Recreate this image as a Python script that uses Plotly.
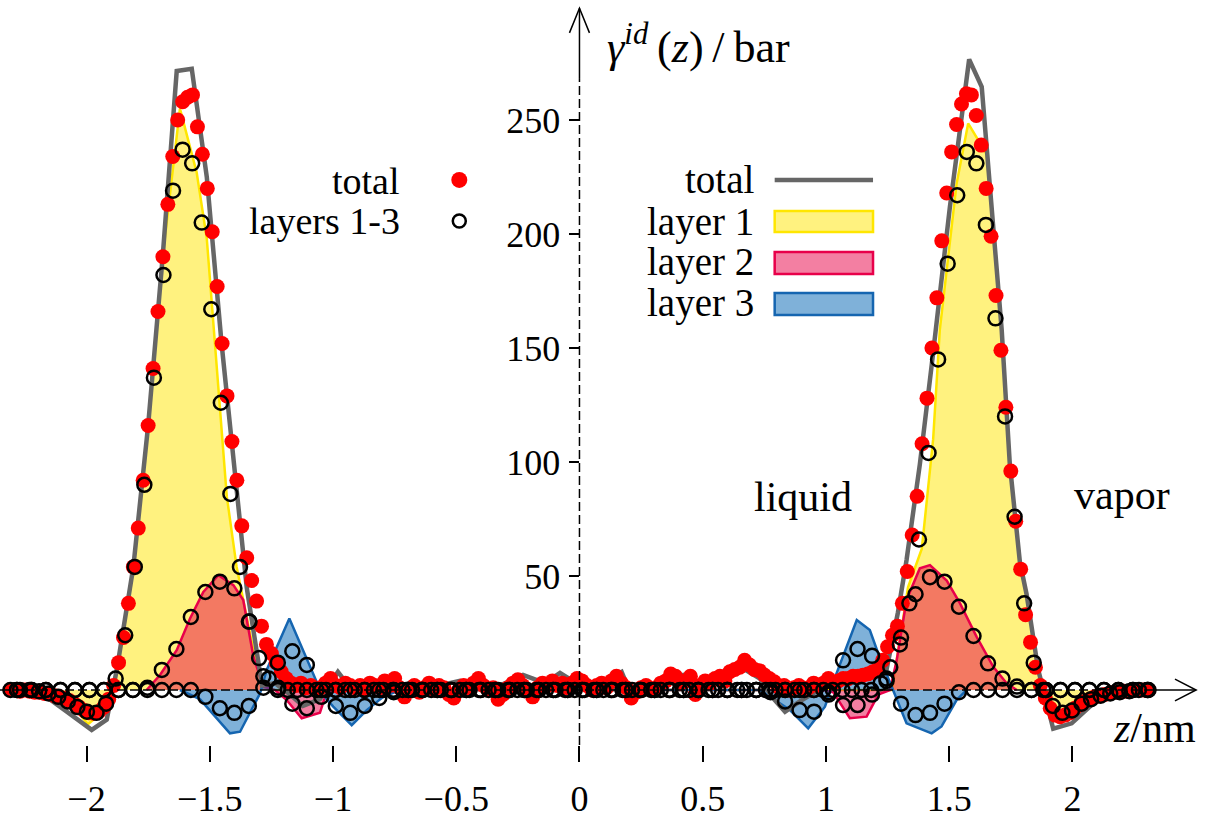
import plotly.graph_objects as go

FONT = "Liberation Serif"

# ---------------- data ----------------
# total, dense sampling (red dots), z = -2.31 ... 2.31 step 0.02
total_dots = [
    0, 0, -0.5, 0, -0.5, -1, -1, -1.5, -1.5, -2.5,
    -3, -3.6, -4.6, -6, -7.5, -9, -10, -10.2, -9.5, -7.5,
    -4, 2, 12, 23, 38, 54, 71, 92, 116, 141,
    166, 190, 213, 234, 250, 258, 260, 261, 247, 235,
    220, 201, 177, 152, 129, 109, 92, 72, 58, 48,
    39, 28, 20, 16, 12, 8, 5, 3, 2, 3,
    1, 2, 0, 1, 3, 5, 2, 1, 3, 2,
    1, 2, 0, 3, 2, 1, 4, 2, 5, 1,
    -3, 0, 2, -1, 1, 3, 0, 2, 1, -2,
    -3.5, 0, 2, 1, 3, 5, 2, 0, 1, -4,
    -2, 1, 3, 4.5, 2, 0, -3, 1, 3, 2,
    4, 2, 3, 1, 3, 5, 4, 2, 0, 2,
    3, 1, 4, 6, 3, 1, -3.5, -1, 1, 2,
    0, 1, 3, 4, 7, 6, 3, 4, 6, -2,
    2, 4, 3, 5, 6, 4, 8, 9, 10, 13,
    11, 9, 8.5, 6.6, 5, 3.6, 1, 2, 0, 1,
    2, 0, 1, 3, 2, 3, 5, 3, 4, 5,
    5, 6, 6, 6.5, 7, 8, 9, 13, 19, 24,
    28, 38, 52, 68, 85, 108, 128, 150, 172, 197,
    218, 236, 248, 257, 261.5, 261, 252, 239, 220, 199,
    173, 149, 124, 96, 74, 53, 33, 21, 10, 2,
    -3.5, -8, -11, -11.7, -11, -10, -8, -6.5, -5, -4,
    -3, -2.5, -2, -1.5, -1, -1, -0.5, -0.5, 0, 0,
    0, 0,
]
z_dots = [round(-2.31 + 0.02 * i, 2) for i in range(len(total_dots))]

# layer 1, circles (finer sampling)
layer1_circ = [
    0, 0, 0, -0.5, -1.5, -3, -5, -7.5, -9.5, -10,
    -6, 5, 24, 54, 90, 137, 182, 219, 237, 231,
    205, 167, 126, 86, 54, 30, 14, 5, 1, 0,
    0, 0, 0, 0, 0, 0, 0, 0, 0, 0,
    0, 0, 0, 0, 0, 0, 0, 0, 0, 0,
    0, 0, 0, 0, 0, 0, 0, 0, 0, 0,
    0, 0, 0, 0, 0, 0, 0, 0, 0, 0,
    0, 0, 0, 0, 0, 0, 0, 0, 0, 0,
    0, 0, 0, 0, 0, 0, 0, 0, 0, 0,
    0, 3, 10, 20, 38, 66, 104, 145, 187, 217,
    236, 231, 204, 163, 120, 76, 38, 12, 0, -7,
    -10, -9, -6, -4, -2.5, -1.5, -1, -0.5, 0, 0,
]
z_circ1 = [round(0.0388 * (j + 0.5), 4) for j in range(-60, 60)]

# layers 2 and 3, circles
layer2_circ = [
    0, 0, 0, 0, 0, 0, 0, 0, 0, 1,
    8.8, 18, 32, 43, 47.5, 44.6, 30, 6, 0, -6,
    -8, -3, 0, 0, 0, 0, 0, 0, 0, 0,
    0, 0, 0, 0, 0, 0, 0, 0, 0, 0,
    0, 0, 0, 0, 0, 0, 0, 0, 0, 0,
    0, 0, 0, 0, 0, 0, -1, -6.6, -6.6, -2,
    5, 23, 42, 49.5, 47.5, 36.5, 23.7, 11.7, 5, 1.5,
    0, 0, 0, 0, 0, 0, 0, 0, 0,
]
layer3_circ = [
    0, 0, 0, 0, 0, 0, 0, 0, 0, 0,
    0, 0, 0, -3, -8, -10, -7, 1, 12, 17,
    11, 0, -7, -10, -7, -3.5, -1, 0, 0, 0,
    0, 0, 0, 0, 0, 0, 0, 0, 0, 0,
    0, 0, 0, 0, 0, 0, 0, 0, 0, 0,
    0, 0, -1, -5, -8.8, -9.5, -2, 13, 18, 15,
    4, -6, -11, -10, -6, -1, 0, 0, 0, 0,
    0, 0, 0, 0, 0, 0, 0, 0, 0,
]
z_circ23 = [round(0.011 + 0.0588 * m, 4) for m in range(-39, 40)]

# total (grey line)
z_total_line = [-2.310, -2.189, -2.080, -1.979, -1.918, -1.877, -1.810, -1.750, -1.691, -1.634,
                -1.573, -1.512, -1.452, -1.394, -1.350, -1.288, -1.235, -1.174, -1.122, -1.053,
                -0.980, -0.923, -0.850, -0.769, -0.688, -0.607, -0.485, -0.363, -0.229, -0.140,
                -0.079, 0.002, 0.083, 0.171, 0.217, 0.286, 0.420, 0.489, 0.570, 0.671,
                0.732, 0.781, 0.834, 0.894, 0.955, 1.016, 1.138, 1.246, 1.292, 1.327,
                1.381, 1.434, 1.503, 1.581, 1.632, 1.713, 1.746, 1.787, 1.814, 1.861,
                1.922, 1.997, 2.084, 2.165, 2.302]
total_line = [0, -1, -9.5, -17.5, -13, 9, 54, 116, 190, 271.5,
              272.5, 225, 152, 89, 45, 2, 3, -2, -7, -4,
              8, 0, 2, 1, 3, 1, 4, 0, 6.6, 3,
              7.5, 2, 3, 8, -4, 2, 6.6, 1, 4, 9,
              5, -3, -9.5, -5, -1, 2, 5, 9, 34, 57,
              99, 147, 212, 276.6, 264.6, 158, 99, 56, 42, 9,
              -17, -14.6, -6, -1.5, 0]

# layer 1 (yellow area)
z_layer1 = [-2.189, -2.080, -1.994, -1.918, -1.876, -1.810, -1.750, -1.691, -1.621, -1.553,
            -1.512, -1.486, -1.458, -1.431, -1.391, -1.323, -1.283, -1.235,
            1.268, 1.333, 1.389, 1.435, 1.462, 1.496, 1.530, 1.577, 1.652, 1.713,
            1.746, 1.787, 1.814, 1.861, 1.895, 1.936, 2.030, 2.112, 2.172]
layer1 = [0, -4, -15, -8, 8, 53, 116, 190, 255, 227,
          198, 162, 121, 85, 54, 17.5, 1.5, 0,
          0, 45, 62, 110, 158, 191.5, 222, 248.5, 235, 158,
          99, 56, 42, 9, -4.4, -11.7, -4.4, -1, 0]

# layer 2 (red area)
z_layer2 = [-1.756, -1.702, -1.634, -1.580, -1.526, -1.465, -1.404, -1.364, -1.323, -1.283,
            -1.235, -1.188, -1.127, -1.053, -1.026, -0.972,
            0.984, 1.030, 1.097, 1.165, 1.212, 1.260, 1.287, 1.327, 1.381, 1.422,
            1.490, 1.544, 1.611, 1.679, 1.733, 1.774]
layer2 = [0, 6.6, 17.5, 31.4, 43, 50.4, 46, 39.5, 14.6, 1.5,
          0, -4.4, -12.4, -10, -1, 0,
          0, -1, -12.4, -11.7, -2, 0, 13, 39.5, 53.4, 54.8,
          48, 38, 23.4, 10.2, 3, 0]

# layer 3 (blue area)
z_layer3 = [-1.621, -1.540, -1.418, -1.377, -1.296, -1.269, -1.177, -1.080, -1.046, -0.999,
            -0.924, -0.863, -0.796, -0.728,
            0.732, 0.854, 0.928, 0.996, 1.043, 1.125, 1.178, 1.212, 1.260, 1.327,
            1.429, 1.469, 1.530, 1.571]
layer3 = [0, -4, -19, -18.3, -1.5, 8.8, 31.4, 7.3, -1.5, -7.3,
          -15.4, -8.8, -3, 0,
          0, -8.8, -16.8, -7.3, 7.3, 30.7, 26.3, 16, 3, -14.6,
          -19, -16, -4.4, 0]

xtick_vals = [-2, -1.5, -1, -0.5, 0, 0.5, 1, 1.5, 2]
xtick_text = ["\u22122", "\u22121.5", "\u22121", "\u22120.5", "0", "0.5", "1", "1.5", "2"]
ytick_vals = [50, 100, 150, 200, 250]
ytick_text = ["50", "100", "150", "200", "250"]

# ---------------- styling ----------------
GREY = "#666666"
Y1_LINE, Y1_FILL = "#FFE600", "rgba(255,230,0,0.5)"
L2_LINE, L2_FILL = "#E8004A", "rgba(232,0,70,0.5)"
L3_LINE, L3_FILL = "#1565B0", "rgba(0,100,180,0.5)"

X0, X1 = -2.351, 2.546
Y0, Y1 = -24.12, 302.63

fig = go.Figure()
for zz, vv, lc, fc in [(z_layer1, layer1, Y1_LINE, Y1_FILL),
                       (z_layer2, layer2, L2_LINE, L2_FILL),
                       (z_layer3, layer3, L3_LINE, L3_FILL)]:
    fig.add_trace(go.Scatter(x=zz, y=vv, mode="lines", fill="tozeroy",
                             fillcolor=fc, line=dict(color=lc, width=2.5),
                             hoverinfo="skip", cliponaxis=False))

fig.add_trace(go.Scatter(x=z_total_line, y=total_line, mode="lines",
                         line=dict(color=GREY, width=4.5), cliponaxis=False))
fig.add_trace(go.Scatter(x=z_dots, y=total_dots, mode="markers",
                         marker=dict(color="#FF0000", size=15, line=dict(width=0)),
                         cliponaxis=False))
for zz, vv in [(z_circ1, layer1_circ), (z_circ23, layer2_circ), (z_circ23, layer3_circ)]:
    fig.add_trace(go.Scatter(x=zz, y=vv, mode="markers",
                             marker=dict(symbol="circle-open", color="black", size=14,
                                         line=dict(width=2.5, color="black")),
                             cliponaxis=False))

shapes = []
AX = dict(color="black", width=1.5)
# vertical axis (dashed) + arrow
shapes.append(dict(type="line", xref="x", yref="y", x0=0, x1=0, y0=Y0, y1=268,
                   line=dict(color="black", width=1.5, dash="9px,4px"), layer="above"))
shapes.append(dict(type="line", xref="x", yref="y", x0=0, x1=0, y0=268, y1=299,
                   line=AX, layer="above"))
shapes.append(dict(type="path", xref="x", yref="y",
                   path="M -0.0406,288.2 L 0,299 L 0.0406,288.2", line=AX, layer="above"))
# horizontal axis (dashed) + arrow
shapes.append(dict(type="line", xref="x", yref="y", x0=X0, x1=2.33, y0=0, y1=0,
                   line=dict(color="black", width=1.5, dash="9px,4px"), layer="above"))
shapes.append(dict(type="line", xref="x", yref="y", x0=2.33, x1=2.502, y0=0, y1=0,
                   line=AX, layer="above"))
shapes.append(dict(type="path", xref="x", yref="y",
                   path="M 2.416,4.8 L 2.502,0 L 2.416,-4.8", line=AX, layer="above"))

# legend symbols
shapes.append(dict(type="circle", xref="x", yref="y", xsizemode="pixel", ysizemode="pixel",
                   xanchor=-0.4876, yanchor=223.7, x0=-8, x1=8, y0=-8, y1=8,
                   fillcolor="#FF0000", line=dict(width=0), layer="above"))
shapes.append(dict(type="circle", xref="x", yref="y", xsizemode="pixel", ysizemode="pixel",
                   xanchor=-0.4876, yanchor=205.7, x0=-6.5, x1=6.5, y0=-6.5, y1=6.5,
                   fillcolor="rgba(0,0,0,0)", line=dict(width=2.5, color="black"), layer="above"))
shapes.append(dict(type="line", xref="x", yref="y", x0=0.792, x1=1.191, y0=223.7, y1=223.7,
                   line=dict(color=GREY, width=4.5), layer="above"))
for (ya, yb), lc, fc in [((200.9, 210.1), Y1_LINE, Y1_FILL),
                         ((182.5, 192.1), L2_LINE, L2_FILL),
                         ((164.5, 174.1), L3_LINE, L3_FILL)]:
    shapes.append(dict(type="rect", xref="x", yref="y", x0=0.792, x1=1.191, y0=ya, y1=yb,
                       fillcolor=fc, line=dict(color=lc, width=2.5), layer="above"))

annotations = []
def txt(x, y, s, xanchor="center", size=40):
    annotations.append(dict(x=x, y=y, xref="x", yref="y", text=s, showarrow=False,
                            xanchor=xanchor, yanchor="middle",
                            font=dict(family=FONT, size=size, color="black")))

txt(-0.72, 223.4, "total", "right", 38)
txt(-0.72, 205.6, "layers 1-3", "right", 38)
txt(0.716, 223.7, "total", "right", 39)
txt(0.716, 205.3, "layer 1", "right", 39)
txt(0.716, 187.7, "layer 2", "right", 39)
txt(0.716, 169.7, "layer 3", "right", 39)
txt(0.907, 84.6, "liquid", size=42)
txt(2.201, 85.5, "vapor", size=42)
txt(2.335, -16.7, "<i>z</i>/nm", size=42)
txt(0.103, 282.9,
    "<i>\u03b3</i><sup><i>id</i></sup>\u2009(<i>z</i>)\u2009/\u2009bar",
    "left", 44)

fig.update_layout(
    width=1207, height=820,
    margin=dict(l=0, r=0, t=0, b=75, pad=0),
    paper_bgcolor="white", plot_bgcolor="white",
    showlegend=False,
    shapes=shapes, annotations=annotations,
    xaxis=dict(range=[X0, X1], showgrid=False, zeroline=False, showline=False,
               ticks="outside", ticklen=16, tickwidth=1.5, tickcolor="black",
               tickvals=xtick_vals, ticktext=xtick_text, ticklabelstandoff=6,
               tickfont=dict(family=FONT, size=36, color="black"), automargin=False),
    yaxis=dict(range=[Y0, Y1], anchor="free", position=(0 - X0) / (X1 - X0),
               showgrid=False, zeroline=False, showline=False,
               ticks="outside", ticklen=10, tickwidth=1.5, tickcolor="black",
               tickvals=ytick_vals, ticktext=ytick_text, ticklabelstandoff=2,
               tickfont=dict(family=FONT, size=36, color="black"), automargin=False),
)

fig.write_html("out.html", config={"displayModeBar": False},
               post_script="document.body.style.margin='0px';document.body.style.overflow='hidden';")
